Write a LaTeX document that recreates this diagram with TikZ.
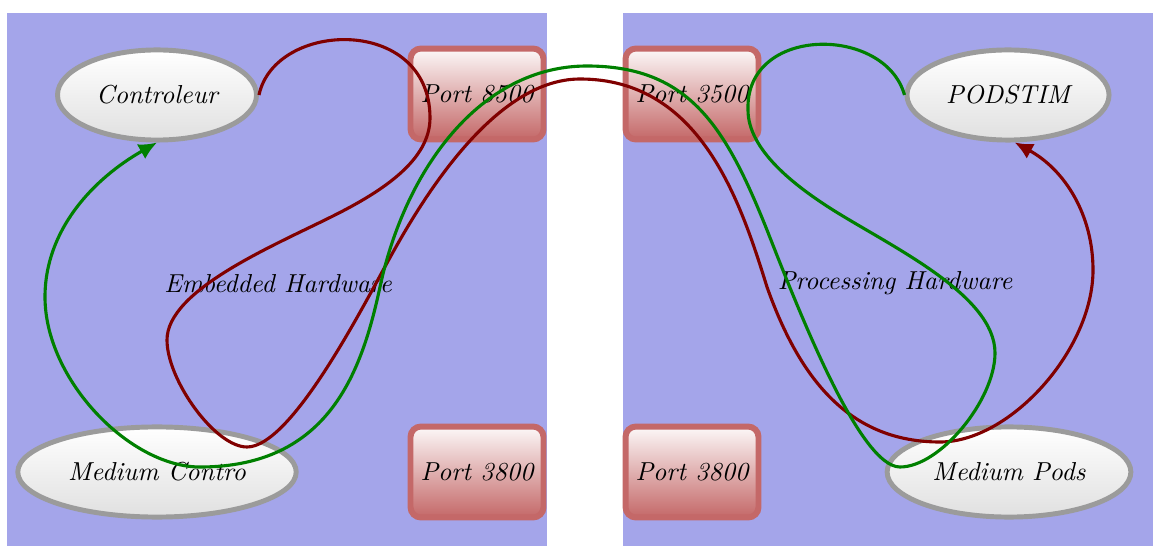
\documentclass[tikz,border=0pt]{standalone}
\usetikzlibrary{arrows.meta,shapes.geometric}
\definecolor{panelblue}{RGB}{164,165,234}
\definecolor{ellborder}{RGB}{155,155,155}
\definecolor{ellbottom}{RGB}{224,224,224}
\definecolor{portred}{RGB}{196,104,104}
\definecolor{porttop}{RGB}{252,248,248}
\definecolor{curvered}{RGB}{128,0,0}
\definecolor{curvegreen}{RGB}{0,128,0}
\tikzset{
  panel/.style={fill=panelblue},
  ellnode/.style={ellipse, draw=ellborder, line width=1.9pt, top color=white, bottom color=ellbottom, inner xsep=3.7pt, minimum height=34.7pt, font=\itshape},
  portnode/.style={rectangle, rounded corners=4pt, draw=portred, line width=2.3pt, top color=porttop, bottom color=portred, minimum width=51.2pt, minimum height=35pt, inner sep=0pt, font=\itshape},
  panellabel/.style={font=\itshape, inner sep=0pt},
  redcurve/.style={draw=curvered, line width=1.2pt, -{Latex[length=7pt,width=6.5pt]}},
  greencurve/.style={draw=curvegreen, line width=1.2pt, -{Latex[length=7pt,width=6.5pt]}}
}
\begin{document}
\begin{tikzpicture}[x=0.385pt,y=-0.385pt]
\path[use as bounding box] (0,0) rectangle (1153,546);
\fill[panel] (7,13) rectangle (547,546);
\fill[panel] (623,13) rectangle (1153,546);

\node[ellnode] (ctl) at (157,95) {Controleur};
\node[ellnode] (mc) at (157,472) {Medium Contro};
\node[portnode] (p8500) at (477,94) {Port 8500};
\node[portnode] (p3800l) at (477,472) {Port 3800};
\node[portnode] (p3500) at (692,94) {Port 3500};
\node[portnode] (p3800r) at (692,472) {Port 3800};
\node[ellnode] (pod) at (1008,95) {PODSTIM};
\node[ellnode] (mpods) at (1009,472) {Medium Pods};

\node[panellabel] (emb) at (278,284) {Embedded Hardware};
\node[panellabel] (proc) at (895,283) {Processing Hardware};

% waypoints of the red connector
\coordinate (r1) at (430,118);
\coordinate (r2) at (333,216);
\coordinate (r3) at (167,340);
\coordinate (r4) at (247,447);
\coordinate (r5) at (387,263);
\coordinate (r6) at (580,79);
\coordinate (r7) at (767,287);
\coordinate (r8) at (940,442);
\coordinate (r9) at (1093,270);

\draw[redcurve] (ctl.east)
  .. controls (275,20) and (430,15) .. (r1)
  .. controls (430,160) and (383,191) .. (r2)
  .. controls (273,246) and (167,290) .. (r3)
  .. controls (167,380) and (215,447) .. (r4)
  .. controls (290,447) and (358,316) .. (r5)
  .. controls (415,212) and (490,79) .. (r6)
  .. controls (700,79) and (740,200) .. (r7)
  .. controls (800,380) and (850,442) .. (r8)
  .. controls (1010,442) and (1093,350) .. (r9)
  .. controls (1093,215) and (1065,170) .. (pod.-82);

% waypoints of the green connector
\coordinate (g1) at (748,110);
\coordinate (g2) at (833,210);
\coordinate (g3) at (995,353);
\coordinate (g4) at (900,467);
\coordinate (g5) at (767,230);
\coordinate (g6) at (587,66);
\coordinate (g7) at (380,287);
\coordinate (g8) at (200,467);
\coordinate (g9) at (45,297);

\draw[greencurve] (pod.west)
  .. controls (885,25) and (745,25) .. (g1)
  .. controls (748,150) and (795,186) .. (g2)
  .. controls (892,247) and (995,295) .. (g3)
  .. controls (995,400) and (940,467) .. (g4)
  .. controls (860,467) and (800,314) .. (g5)
  .. controls (726,128) and (690,66) .. (g6)
  .. controls (480,66) and (405,170) .. (g7)
  .. controls (362,370) and (330,467) .. (g8)
  .. controls (130,467) and (45,380) .. (g9)
  .. controls (45,230) and (93,179) .. (ctl.south);
\end{tikzpicture}
\end{document}
